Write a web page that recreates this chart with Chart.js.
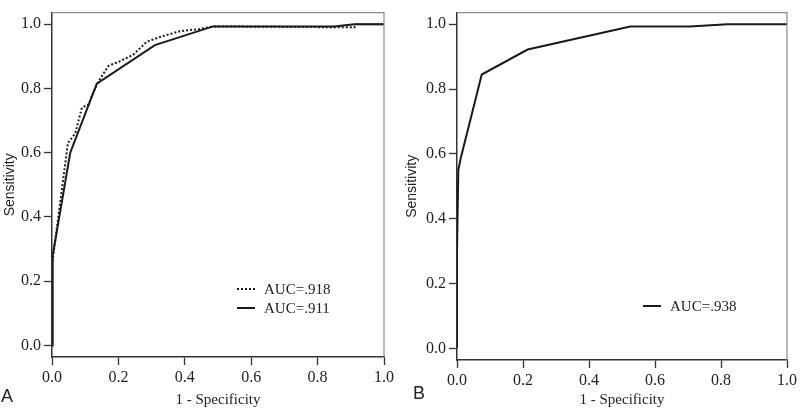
<!DOCTYPE html>
<html lang="en">
  <head>
    <meta charset="UTF-8" />
    <title>ROC curves</title>
    <script src="https://cdn.jsdelivr.net/npm/chart.js"></script>
    <style>
      body { margin: 0; background: #fff; }
      #wrap { position: relative; width: 800px; height: 414px; }
      .panel { position: absolute; top: 0; }
      .tag { position: absolute; font-family: "Liberation Sans", Arial, sans-serif; font-size: 18px; color: #222; }
    </style>
  </head>
  <body>
    <div id="wrap">
      <canvas id="rocA" class="panel" style="left:0" width="400" height="414"></canvas>
      <canvas id="rocB" class="panel" style="left:400px" width="400" height="414"></canvas>
      <div class="tag" style="left:1px; top:386px">A</div>
      <div class="tag" style="left:413px; top:383px">B</div>
    </div>

  <script>
    // values (1 - specificity, sensitivity)
    const aDottedX = [0, 0, 0.024, 0.048, 0.07, 0.09, 0.11, 0.125, 0.145, 0.17, 0.205, 0.245, 0.285, 0.325, 0.385, 0.445, 0.485, 0.91, 0.92, 1];
    const aDottedY = [0, 0.25, 0.44, 0.63, 0.66, 0.74, 0.75, 0.79, 0.83, 0.87, 0.885, 0.905, 0.945, 0.96, 0.978, 0.985, 0.993, 0.99, 1, 1];
    const aSolidX = [0, 0.002, 0.055, 0.135, 0.31, 0.485, 0.85, 0.91, 1];
    const aSolidY = [0, 0.28, 0.6, 0.815, 0.935, 0.993, 0.993, 1, 1];
    const bSolidX = [0, 0, 0.004, 0.012, 0.075, 0.214, 0.525, 0.705, 0.82, 1];
    const bSolidY = [0, 0.3, 0.55, 0.59, 0.845, 0.922, 0.993, 0.993, 1, 1];

    const aLabels = ["AUC=.918", "AUC=.911"];
    const bLabels = ["AUC=.938"];
    const xTicks = [0, 0.2, 0.4, 0.6, 0.8, 1.0];
    const yTicks = [0, 0.2, 0.4, 0.6, 0.8, 1.0];
    const xTitle = "1 - Specificity";
    const yTitle = "Sensitivity";

    const serif = "'Liberation Serif', 'Times New Roman', serif";
    const sans = "'Liberation Sans', Arial, sans-serif";

    function toPoints(xs, ys) {
      return xs.map((x, i) => ({ x: x, y: ys[i] }));
    }

    // grey frame on top/right and a small legend inside the plot
    const framePlugin = {
      id: "frame",
      afterDraw(chart, args, opts) {
        const ctx = chart.ctx;
        const a = chart.chartArea;
        ctx.save();
        ctx.strokeStyle = "#8a8a8a";
        ctx.lineWidth = 1.2;
        ctx.beginPath();
        ctx.moveTo(a.left, a.top);
        ctx.lineTo(a.right, a.top);
        ctx.lineTo(a.right, a.bottom);
        ctx.stroke();

        ctx.font = "15px " + serif;
        ctx.fillStyle = "#222";
        ctx.textBaseline = "middle";
        chart.data.datasets.forEach((ds, i) => {
          const y = opts.y + i * opts.gap;
          ctx.strokeStyle = ds.borderColor;
          ctx.lineWidth = 2;
          ctx.setLineDash(ds.borderDash || []);
          ctx.beginPath();
          ctx.moveTo(opts.x, y);
          ctx.lineTo(opts.x + 18, y);
          ctx.stroke();
          ctx.setLineDash([]);
          ctx.fillText(ds.label, opts.x + 27, y + 1);
        });
        ctx.restore();
      },
    };

    function makeChart(id, datasets, box) {
      const ctx = document.getElementById(id).getContext("2d");
      return new Chart(ctx, {
        type: "scatter",
        data: { datasets: datasets },
        plugins: [framePlugin],
        options: {
          responsive: false,
          animation: false,
          layout: { padding: { top: 2, right: box.right, left: 0, bottom: 0 } },
          elements: { point: { radius: 0 }, line: { tension: 0 } },
          scales: {
            x: {
              type: "linear",
              min: 0,
              max: 1,
              afterFit: (s) => { s.height = box.xh; },
              afterBuildTicks: (s) => { s.ticks = xTicks.map((v) => ({ value: v })); },
              grid: { drawOnChartArea: false, color: "#333", tickLength: 8, tickWidth: 1.3 },
              border: { color: "#333", width: 1.5 },
              ticks: { color: "#222", padding: 3, font: { family: serif, size: 16 }, callback: (v) => v.toFixed(1) },
              title: { display: true, text: xTitle, color: "#222", font: { family: serif, size: 15 }, padding: { top: 0, bottom: 5 } },
            },
            y: {
              type: "linear",
              min: -0.036,
              max: 1.036,
              afterFit: (s) => { s.width = box.yw; },
              afterBuildTicks: (s) => { s.ticks = yTicks.map((v) => ({ value: v })); },
              grid: { drawOnChartArea: false, color: "#333", tickLength: 8, tickWidth: 1.3 },
              border: { color: "#333", width: 1.5 },
              ticks: { color: "#222", padding: 3, font: { family: serif, size: 16 }, callback: (v) => v.toFixed(1) },
              title: { display: true, text: yTitle, color: "#222", font: { family: sans, size: 14 }, padding: { top: box.tp, bottom: 0 } },
            },
          },
          plugins: {
            legend: { display: false },
            tooltip: { enabled: false },
            frame: { x: box.lx, y: box.ly, gap: 19 },
          },
        },
      });
    }

    makeChart(
      "rocA",
      [
        { label: aLabels[0], data: toPoints(aDottedX, aDottedY), showLine: true, borderColor: "#1a1a1a", borderWidth: 2, borderDash: [2, 2] },
        { label: aLabels[1], data: toPoints(aSolidX, aSolidY), showLine: true, borderColor: "#1a1a1a", borderWidth: 2 },
      ],
      { right: 16, xh: 57, yw: 52, tp: 1.5, lx: 237, ly: 289 }
    );

    makeChart(
      "rocB",
      [
        { label: bLabels[0], data: toPoints(bSolidX, bSolidY), showLine: true, borderColor: "#1a1a1a", borderWidth: 2 },
      ],
      { right: 9, xh: 54, yw: 57, tp: 3.5, lx: 243, ly: 306 }
    );
  </script>
  </body>
</html>
